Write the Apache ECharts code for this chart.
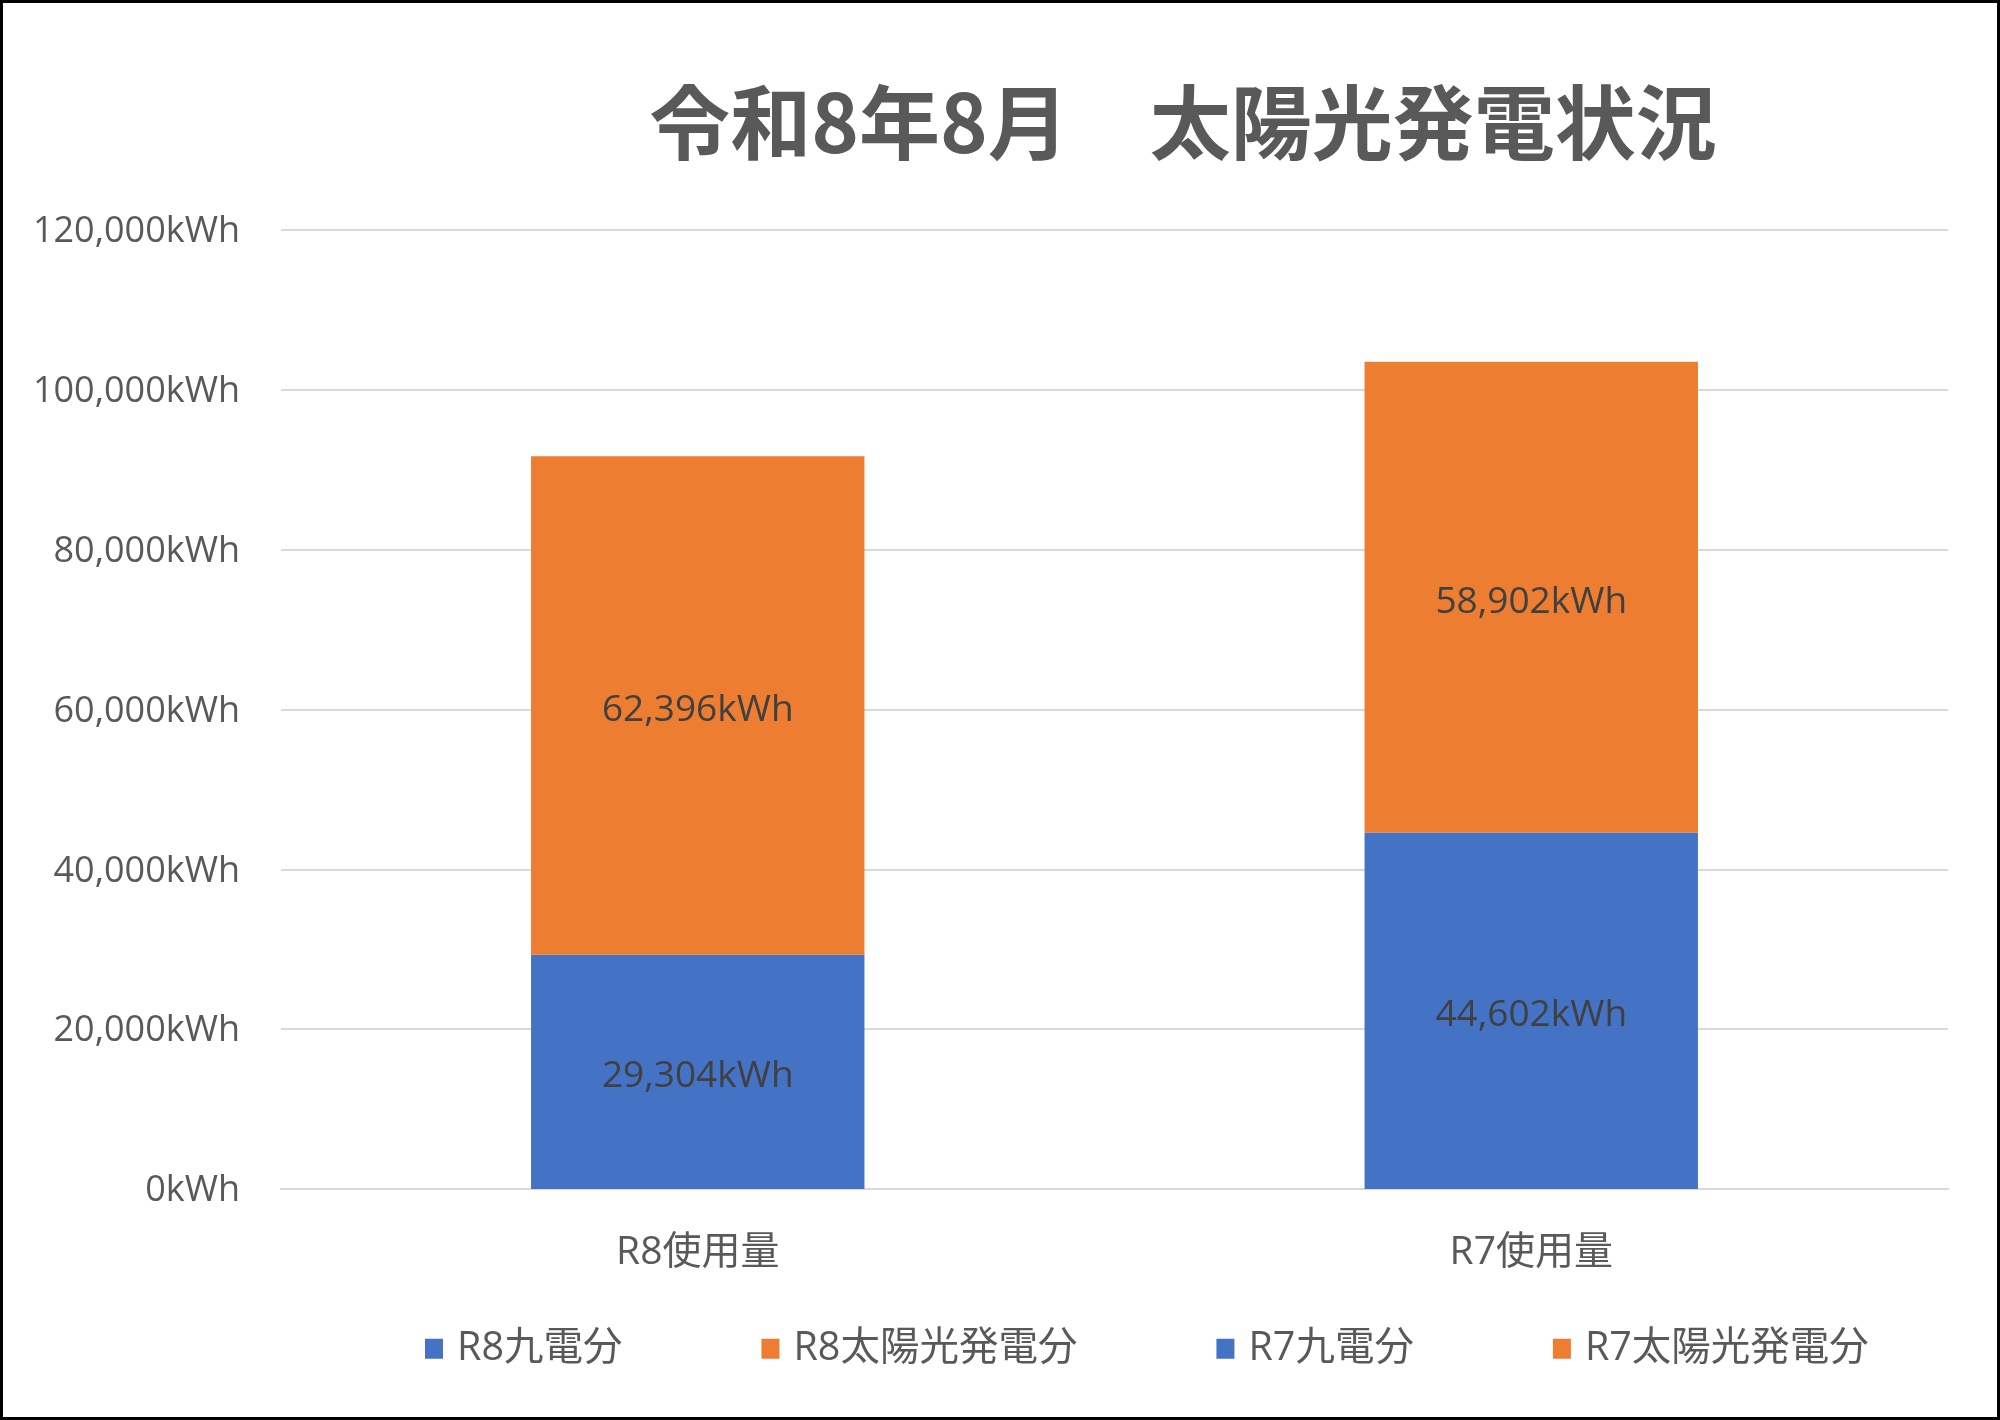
<!DOCTYPE html>
<html>
<head>
<meta charset="utf-8">
<script src="https://cdn.jsdelivr.net/npm/echarts@6/dist/echarts.min.js"></script>
<style>
html,body{margin:0;padding:0;background:#fff;}
#frame{position:absolute;left:0;top:0;width:2000px;height:1420px;box-sizing:border-box;border:3px solid #000;background:#fff;}
#chart{position:absolute;left:0;top:0;width:2000px;height:1420px;}
</style>
</head>
<body>
<div id="frame"></div>
<div id="chart"></div>
<script>
const titleText = '令和8年8月　太陽光発電状況';
const categories = ['R8使用量', 'R7使用量'];
const seriesNames = ['R8九電分', 'R8太陽光発電分', 'R7九電分', 'R7太陽光発電分'];
const r8Kyuden = [29304, null];
const r8Solar = [62396, null];
const r7Kyuden = [null, 44602];
const r7Solar = [null, 58902];
const yTicks = [0, 20000, 40000, 60000, 80000, 100000, 120000];

const BLUE = '#4472C4';
const ORANGE = '#ED7D31';
const FONT = '"Open Sans", "Noto Sans CJK JP", sans-serif';

function fmt(v) {
  return String(v).replace(/\B(?=(\d{3})+(?!\d))/g, ',') + 'kWh';
}

const seriesData = [r8Kyuden, r8Solar, r7Kyuden, r7Solar];
const seriesColors = [BLUE, ORANGE, BLUE, ORANGE];

const chart = echarts.init(document.getElementById('chart'), null, {renderer: 'canvas'});
chart.setOption({
  backgroundColor: 'transparent',
  animation: false,
  title: {
    text: titleText,
    left: 1178,
    top: 77,
    textAlign: 'center',
    textStyle: {
      fontFamily: '"Noto Sans CJK JP", sans-serif',
      fontWeight: 'bold',
      fontSize: 81,
      color: '#595959'
    }
  },
  grid: {left: 281, right: 52, top: 230, bottom: 231, containLabel: false},
  legend: {
    data: seriesNames,
    left: 425,
    top: 1329,
    padding: 0,
    itemWidth: 18,
    itemHeight: 20,
    itemGap: 139,
    icon: 'rect',
    textStyle: {
      fontFamily: FONT,
      fontSize: 39.5,
      color: '#595959',
      padding: [0, 0, 0, 9]
    }
  },
  xAxis: {
    type: 'category',
    data: categories,
    axisLine: {show: true, lineStyle: {color: '#D9D9D9', width: 2}},
    axisTick: {show: false},
    axisLabel: {
      margin: 44,
      fontFamily: FONT,
      fontSize: 39,
      color: '#595959'
    }
  },
  yAxis: {
    type: 'value',
    min: yTicks[0],
    max: yTicks[yTicks.length - 1],
    interval: yTicks[1] - yTicks[0],
    axisLine: {show: false},
    axisTick: {show: false},
    splitLine: {lineStyle: {color: '#D9D9D9', width: 2}},
    axisLabel: {
      margin: 41,
      color: '#595959',
      formatter: v => '{a|' + fmt(v) + '}',
      rich: {
        a: {
          fontFamily: FONT,
          fontSize: 36,
          color: '#595959',
          padding: [4, 0, 0, 0]
        }
      }
    }
  },
  series: seriesNames.map((name, i) => ({
    name: name,
    type: 'bar',
    stack: 'total',
    barWidth: '40%',
    data: seriesData[i],
    itemStyle: {color: seriesColors[i]},
    label: {
      show: true,
      position: 'inside',
      offset: [0, 5],
      fontFamily: FONT,
      fontSize: 37,
      color: '#404040',
      formatter: p => fmt(p.value)
    }
  }))
});
</script>
</body>
</html>
